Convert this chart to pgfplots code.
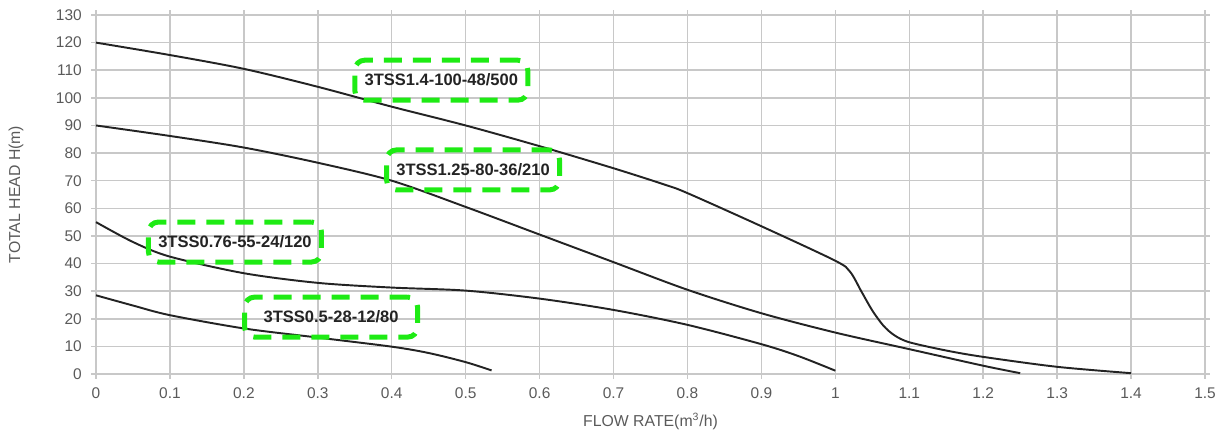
\documentclass[border=0pt]{standalone}
\usepackage{fontspec}
\setmainfont{Liberation Sans}
\usepackage{pgfplots}
\pgfplotsset{compat=1.18}

\definecolor{gridgray}{RGB}{200,200,200}
\definecolor{labgray}{RGB}{90,90,90}
\definecolor{curve}{RGB}{35,35,35}
\definecolor{boxgreen}{RGB}{30,235,20}

\begin{document}
\begin{tikzpicture}[x=0.2mm,y=0.2mm]
\begin{axis}[name=ax,
    at={(0,0)}, anchor=south west,
    scale only axis,
    width=221.8mm, height=71.8mm,
    xmin=0, xmax=1.5, ymin=0, ymax=130,
    xtick={0,0.1,0.2,0.3,0.4,0.5,0.6,0.7,0.8,0.9,1,1.1,1.2,1.3,1.4,1.5},
    ytick={0,10,20,30,40,50,60,70,80,90,100,110,120,130},
    grid=major,
    grid style={gridgray, line width=0.3mm},
    axis line style={draw=none},
    major tick length=0.9mm,
    tick align=outside,
    tick style={gridgray, line width=0.3mm},
    /pgf/number format/assume math mode=true,
    ticklabel style={font=\fontsize{8.8}{10}\selectfont, text=labgray},
    xticklabel style={yshift=-0.6mm},
    yticklabel style={xshift=-0.7mm},
    xlabel={FLOW RATE(m\textsuperscript{3}/h)},
    ylabel={TOTAL HEAD H(m)},
    label style={font=\fontsize{9}{10}\selectfont, text=labgray},
    xlabel style={yshift=-0.4mm},
    ylabel style={yshift=4.1mm},
    clip=false,
]
% 3TSS1.4-100-48/500
\addplot[curve, line width=1.1pt, smooth, tension=0.5] coordinates {
    (0,120) (0.1,115.5) (0.2,110.5) (0.3,104) (0.4,96.8) (0.5,90)
    (0.6,82.5) (0.7,74.5) (0.77,68.5) (0.8,65.5) (0.9,53.5)
    (1.0,41) (1.02,37) (1.035,30) (1.05,23) (1.065,17.5) (1.08,14)
    (1.1,11.5) (1.15,8.5) (1.2,6.2) (1.3,2.6) (1.4,0.3)
};
% 3TSS1.25-80-36/210
\addplot[curve, line width=1.1pt, smooth, tension=0.5] coordinates {
    (0,90) (0.1,86.2) (0.2,82) (0.3,76.5) (0.4,70) (0.5,60.5)
    (0.6,50.5) (0.7,40.5) (0.8,30.5) (0.9,22) (1.0,15) (1.1,9)
    (1.2,3) (1.25,0.3)
};
% 3TSS0.76-55-24/120
\addplot[curve, line width=1.1pt, smooth, tension=0.5] coordinates {
    (0,55) (0.05,47.8) (0.1,42.5) (0.2,36.5) (0.3,33) (0.4,31.3)
    (0.5,30.2) (0.6,27.3) (0.7,23.2) (0.8,17.8) (0.9,10.8)
    (0.95,6.5) (1.0,1.2)
};
% 3TSS0.5-28-12/80
\addplot[curve, line width=1.1pt, smooth, tension=0.5] coordinates {
    (0,28.5) (0.05,24.8) (0.1,21.3) (0.2,16.5) (0.3,13.2) (0.4,9.9)
    (0.45,7.6) (0.5,4.3) (0.535,1.3)
};
\tikzset{pumpbox/.style={draw=boxgreen, line width=1mm,
    dash pattern=on 3.6mm off 2.2mm, rounded corners=2mm,
    minimum width=34.6mm, minimum height=8mm, inner sep=0pt,
    text=curve, font=\fontsize{9.4}{11}\bfseries\selectfont}}
\node[pumpbox] at (axis cs:0.467,106.4) {3TSS1.4-100-48/500};
\node[pumpbox] at (axis cs:0.510,73.9) {3TSS1.25-80-36/210};
\node[pumpbox] at (axis cs:0.188,47.8) {3TSS0.76-55-24/120};
\node[pumpbox] at (axis cs:0.318,20.6) {3TSS0.5-28-12/80};
\end{axis}
\pgfresetboundingbox
\path (-96,-56) rectangle (1134,374);
\end{tikzpicture}
\end{document}
